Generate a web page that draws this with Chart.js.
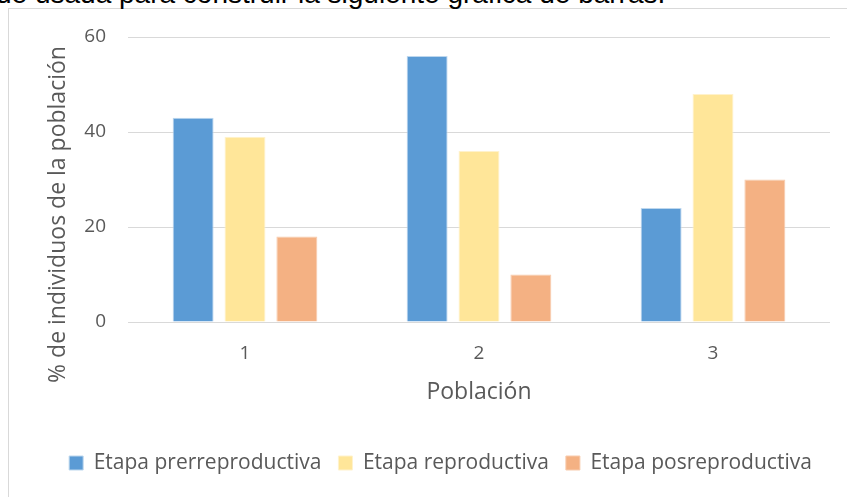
<!DOCTYPE html>
<html>
<head>
<meta charset="utf-8">
<title>Población</title>
<script src="https://cdn.jsdelivr.net/npm/chart.js@4/dist/chart.umd.min.js"></script>
<style>
  html, body { margin: 0; padding: 0; background: #fff; overflow: hidden; }
  #wrap { position: relative; width: 847px; height: 497px; }
  #frame {
    position: absolute; left: 8px; top: 8px; width: 850px; height: 500px;
    border-left: 1px solid #d9d9d9; border-top: 1px solid #d9d9d9;
  }
  #intro {
    position: absolute; left: -4px; top: -20px;
    font: 28px/28px "Liberation Sans", Arial, sans-serif; color: #000; white-space: nowrap;
  }
  canvas { position: absolute; left: 0; top: 0; }
</style>
</head>
<body>
<div id="wrap">
  <div id="frame"></div>
  <div id="intro">de usada para construir la siguiente gráfica de barras.</div>
  <canvas id="chart" width="847" height="497"></canvas>
</div>
<script>
// data
const categories = ['1', '2', '3'];
const seriesNames = ['Etapa prerreproductiva', 'Etapa reproductiva', 'Etapa posreproductiva'];
const prerreproductiva = [43, 56, 24];
const reproductiva = [39, 36, 48];
const posreproductiva = [18, 10, 30];
const yTicks = [0, 20, 40, 60];

const xTitle = 'Población';
const yTitleText = '% de individuos de la población';

const textColor = '#595959';
Chart.defaults.font.family = "'Open Sans', sans-serif";
Chart.defaults.color = textColor;

// y title is drawn by hand, Excel centres it lower than Chart.js would
const yTitle = {
  id: 'yTitle',
  afterDraw(chart) {
    const ctx = chart.ctx;
    const area = chart.chartArea;
    ctx.save();
    ctx.translate(58, (area.top + area.bottom) / 2 + 35);
    ctx.rotate(-Math.PI / 2);
    ctx.font = "23px 'Open Sans', sans-serif";
    ctx.fillStyle = textColor;
    ctx.textAlign = 'center';
    ctx.textBaseline = 'middle';
    ctx.fillText(yTitleText, 0, 0);
    ctx.restore();
  }
};

function bars(label, data, color, edge) {
  return {
    label: label,
    data: data,
    backgroundColor: color,
    borderColor: edge,
    borderWidth: 1,
    categoryPercentage: 0.665,
    barPercentage: 0.79
  };
}

new Chart(document.getElementById('chart'), {
  type: 'bar',
  data: {
    labels: categories,
    datasets: [
      bars(seriesNames[0], prerreproductiva, '#5B9BD5', '#BDD7EE'),
      bars(seriesNames[1], reproductiva, '#FFE699', '#FFF2CC'),
      bars(seriesNames[2], posreproductiva, '#F4B183', '#F8CBAD')
    ]
  },
  options: {
    responsive: false,
    animation: false,
    layout: { padding: { left: 51, right: 17, top: 37, bottom: 13.5 } },
    plugins: {
      tooltip: { enabled: false },
      legend: {
        position: 'bottom',
        labels: {
          boxWidth: 14,
          boxHeight: 14,
          padding: 17,
          color: textColor,
          font: { size: 21 }
        }
      }
    },
    scales: {
      x: {
        grid: { display: false, drawTicks: false },
        border: { display: false },
        ticks: { padding: 20, color: textColor, font: { size: 19 } },
        title: {
          display: true,
          text: xTitle,
          color: textColor,
          font: { size: 23 },
          padding: { top: -6.6, bottom: 29.7 }
        }
      },
      y: {
        min: yTicks[0],
        max: yTicks[yTicks.length - 1],
        afterFit(scale) { scale.width = 77; },
        afterBuildTicks(scale) { scale.ticks = yTicks.map(v => ({ value: v })); },
        grid: { color: '#D9D9D9', lineWidth: 1, drawTicks: false },
        border: { display: false },
        ticks: { padding: 22, color: textColor, font: { size: 19 } }
      }
    }
  },
  plugins: [yTitle]
});
</script>
</body>
</html>
